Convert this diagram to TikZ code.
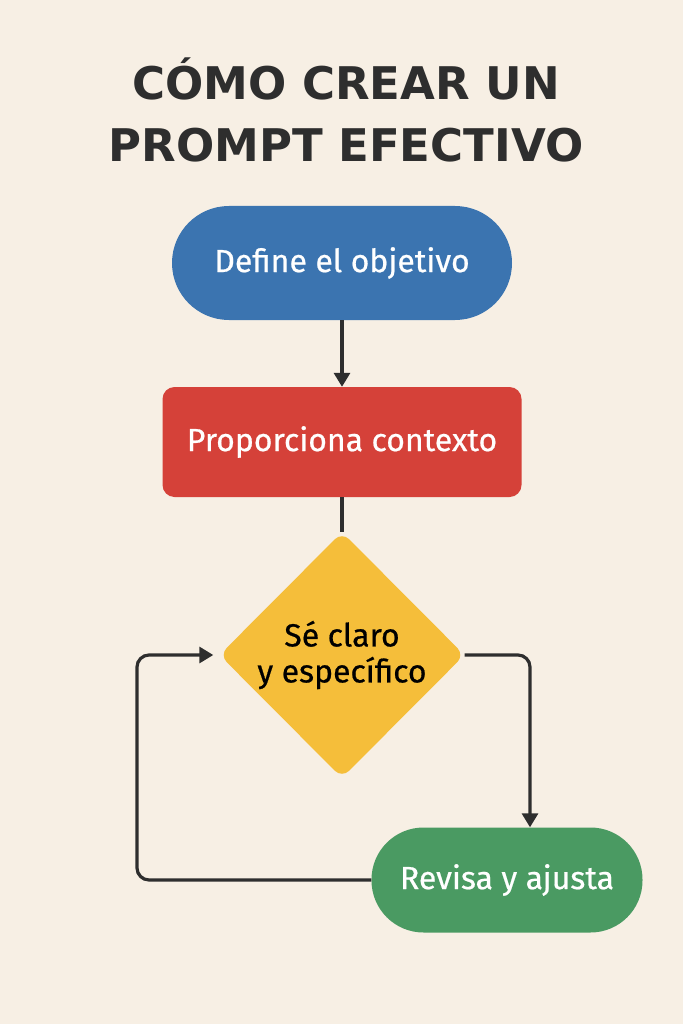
\documentclass[tikz,border=0pt]{standalone}
\usepackage{fontspec}
\setmainfont{Fira Sans}
\newfontfamily\titlefont{DejaVu Sans}
\usetikzlibrary{arrows.meta,shapes.geometric}
\definecolor{bg}{HTML}{F7EFE4}
\definecolor{cblue}{HTML}{3B74B0}
\definecolor{cred}{HTML}{D54139}
\definecolor{cyel}{HTML}{F5BE3A}
\definecolor{cgreen}{HTML}{4A9A62}
\definecolor{ink}{HTML}{2E2E2E}
\tikzset{
  lbl/.style={font=\fontsize{32}{36}\selectfont\addfontfeature{FakeBold=0.6}},
  conn/.style={draw=ink,line width=3.2pt,rounded corners=12pt,-{Stealth[length=14pt,width=16pt,inset=0pt]}},
}
\begin{document}
\begin{tikzpicture}[x=1pt,y=-1pt]
\fill[bg] (0,0) rectangle (683,1024);
\useasboundingbox (0,0) rectangle (683,1024);
\node[text=ink,font=\fontsize{45}{62}\selectfont\titlefont\bfseries,align=center] (title) at (346,110) {CÓMO CREAR UN\\PROMPT EFECTIVO};
\node[lbl,fill=cblue,text=white,minimum width=340pt,minimum height=114pt,rounded corners=57pt] (a) at (342,263) {Define el objetivo};
\node[lbl,fill=cred,text=white,minimum width=359pt,minimum height=110pt,rounded corners=12pt] (b) at (342,442) {Proporciona contexto};
\node[lbl,fill=cyel,text=black,diamond,minimum width=245pt,minimum height=246pt,inner sep=0pt,align=center,rounded corners=10pt] (c) at (342,655) {Sé claro\\y específico};
\node[lbl,fill=cgreen,text=white,minimum width=271pt,minimum height=105pt,rounded corners=52pt] (d) at (507,880) {Revisa y ajusta};
\draw[conn] (a.south) -- (b.north);
\draw[draw=ink,line width=3.2pt] (b.south) -- (c.north);
\draw[conn] (c.east) -- (530,655) -- (d.north -| 530,0);
\draw[conn] (d.west) -- (137,880) -- (137,655) -- ([xshift=-6pt]c.west);
\end{tikzpicture}
\end{document}
